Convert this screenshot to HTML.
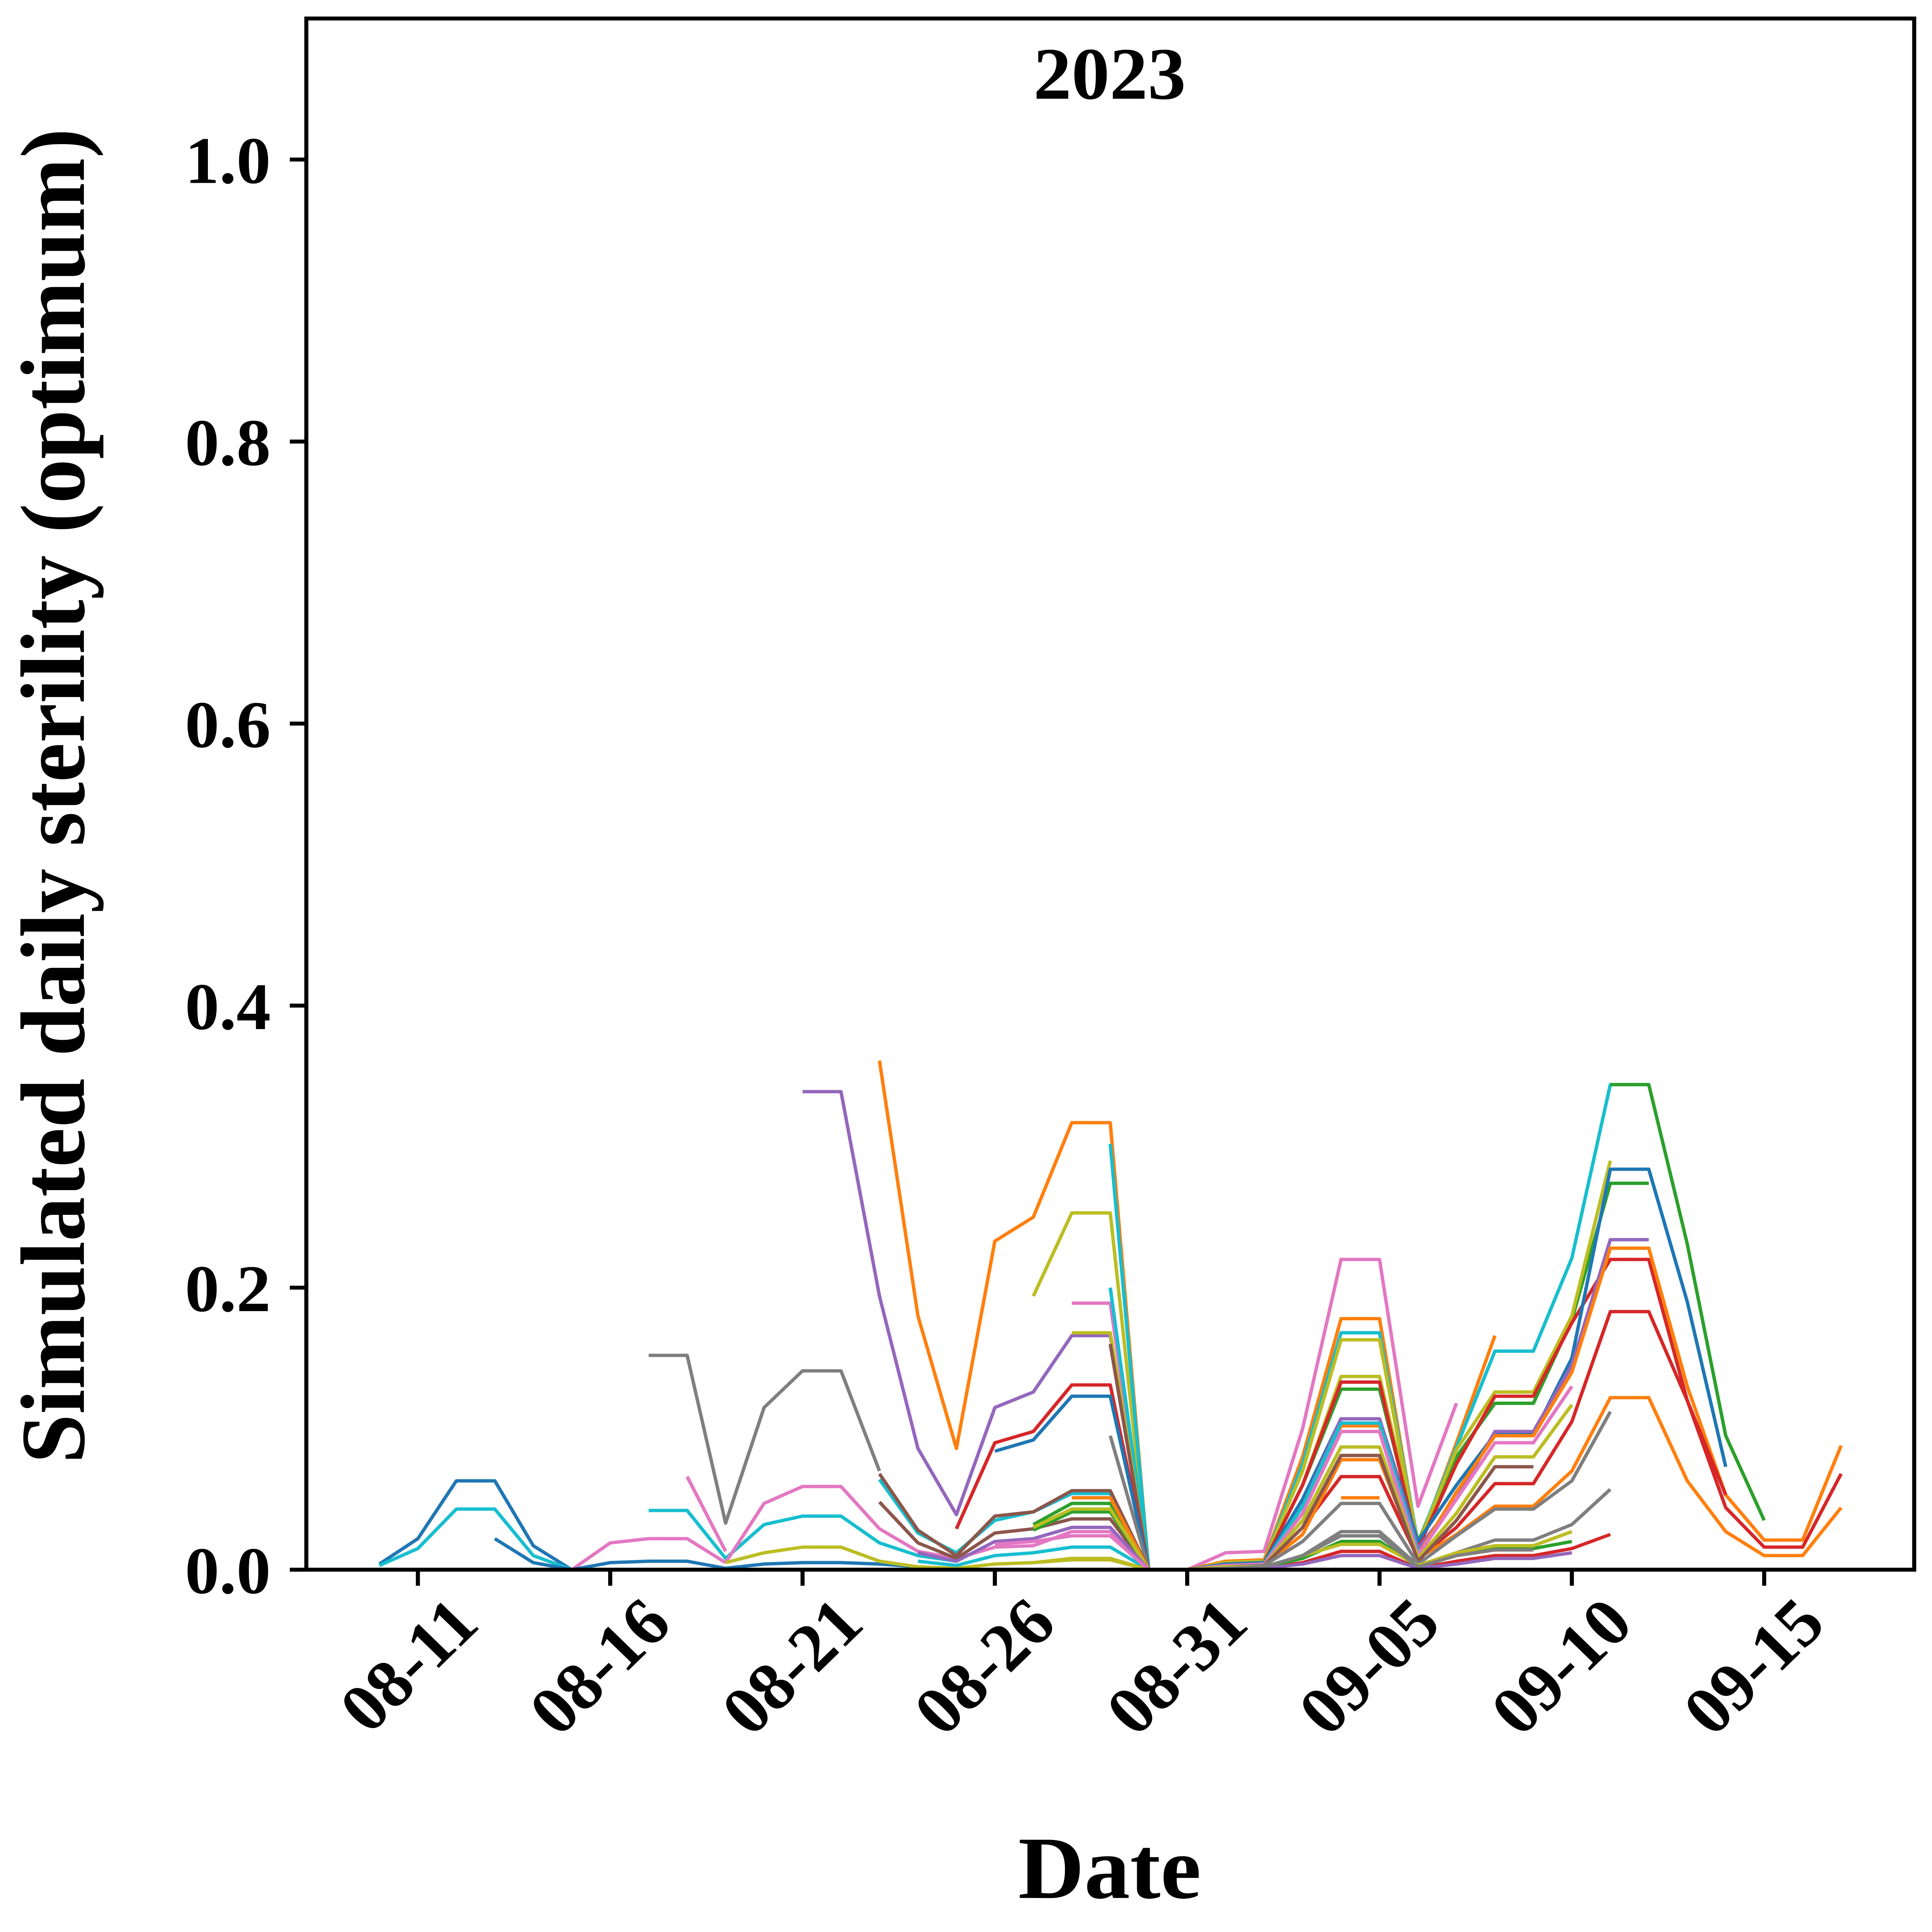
<!DOCTYPE html>
<html><head><meta charset="utf-8"><style>
html,body{margin:0;padding:0;background:#fff;overflow:hidden;width:100vw;height:100vh}
svg{display:block;width:100vw;height:100vh}
text{font-family:"Liberation Serif",serif;font-weight:bold;fill:#000}
</style></head><body>
<svg id="chart" xmlns="http://www.w3.org/2000/svg" viewBox="0 0 1520 1565.6" preserveAspectRatio="none">
<rect x="0" y="0" width="1520" height="1565.6" fill="#fff"/>
<g id="series"></g>
<g id="axes"></g>
<rect x="241" y="15" width="1265" height="1257" fill="none" stroke="#000" stroke-width="3.2"/>
<text x="873" y="80" font-size="60" text-anchor="middle">2023</text>
<text x="873" y="1538" font-size="72" text-anchor="middle">Date</text>
<text transform="translate(66,645) rotate(-90)" font-size="72" text-anchor="middle">Simulated daily sterility (optimum)</text>
</svg>
<script>
const dates = ["08-10","08-11","08-12","08-13","08-14","08-15","08-16","08-17","08-18","08-19","08-20","08-21","08-22","08-23","08-24","08-25","08-26","08-27","08-28","08-29","08-30","08-31","09-01","09-02","09-03","09-04","09-05","09-06","09-07","09-08","09-09","09-10","09-11","09-12","09-13","09-14","09-15","09-16","09-17"];
const xTickLabels = ["08-11","08-16","08-21","08-26","08-31","09-05","09-10","09-15"];
const yTickValues = [0.0,0.2,0.4,0.6,0.8,1.0];
const yTickLabels = ["0.0","0.2","0.4","0.6","0.8","1.0"];
const seriesColors = ["#1f77b4","#17becf","#1f77b4","#e377c2","#1f77b4","#7f7f7f","#e377c2","#17becf","#e377c2","#bcbd22","#9467bd","#ff7f0e","#bcbd22","#17becf","#e377c2","#17becf","#bcbd22","#8c564b","#d62728","#1f77b4","#7f7f7f","#17becf","#8c564b","#8c564b","#2ca02c","#2ca02c","#ff7f0e","#bcbd22","#9467bd","#17becf","#bcbd22","#e377c2",
"#e377c2","#ff7f0e","#17becf","#2ca02c","#2ca02c","#bcbd22","#bcbd22","#d62728","#1f77b4","#9467bd","#ff7f0e","#d62728","#ff7f0e","#17becf","#e377c2","#bcbd22","#8c564b","#7f7f7f","#7f7f7f","#ff7f0e","#d62728","#2ca02c","#9467bd","#bcbd22","#7f7f7f","#d62728"];
const seriesStart = [0,0,3,5,5,7,8,7,9,9,11,13,17,19,18,19,18,19,15,16,19,13,13,13,17,17,18,17,14,14,16,16,
21,21,21,21,32,21,21,21,21,21,21,21,21,21,21,21,21,21,21,25,21,21,21,21,21,29];
const seriesValues = [
[0.004,0.022,0.063,0.063,0.017,0.0],
[0.003,0.015,0.043,0.043,0.010,0.0],
[0.022,0.005,0.0],
[0.0,0.019,0.022,0.022,0.005],
[0,0.005,0.006,0.006,0.001,0.004,0.005,0.005,0.004,0.002,0.001],
[0.152,0.152,0.033,0.115,0.141,0.141,0.070],
[0.066,0.013],
[0.042,0.042,0.008,0.032,0.038,0.038,0.019,0.010,0.006],
[0.005,0.047,0.059,0.059,0.029,0.013,0.008,0.016,0.017,0.027,0.027,0],
[0.005,0.012,0.016,0.016,0.006,0.002,0.001,0.004,0.005,0.007,0.007,0],
[0.339,0.339,0.194,0.086,0.039,0.115,0.126,0.166,0.166,0],
[0.361,0.18,0.086,0.233,0.25,0.317,0.317,0],
[0.194,0.253,0.253,0],
[0.302,0],
[0.189,0.189,0],
[0.2,0],
[0.168,0.168,0],
[0.16,0],
[0.029,0.09,0.098,0.131,0.131,0],
[0.084,0.092,0.123,0.123,0],
[0.095,0],
[0.064,0.026,0.012,0.035,0.041,0.054,0.054,0],
[0.068,0.028,0.01,0.038,0.041,0.056,0.056,0],
[0.048,0.019,0.008,0.026,0.029,0.036,0.036,0],
[0.032,0.047,0.047,0],
[0.028,0.041,0.041,0],
[0.051,0.051,0],
[0.03,0.043,0.043,0],
[0.012,0.006,0.02,0.022,0.03,0.03,0],
[0.006,0.003,0.01,0.012,0.016,0.016,0],
[0.004,0.005,0.008,0.008,0],
[0.018,0.02,0.024,0.024,0],
[0,0.012,0.013,0.1,0.22,0.22,0.045,0.118],
[0,0.006,0.007,0.08,0.178,0.178,0.017,0.09,0.166],
[0,0.005,0.006,0.075,0.168,0.168,0.019,0.087,0.155,0.155,0.221,0.344,0.344],
[0,0.004,0.005,0.06,0.128,0.128,0.02,0.08,0.118,0.118,0.177,0.274,0.274],
[0.344,0.344,0.231,0.095,0.035],
[0,0.005,0.006,0.07,0.163,0.163,0.018,0.085,0.126,0.126,0.18,0.29],
[0,0.004,0.005,0.06,0.137,0.137,0.02],
[0,0.004,0.005,0.06,0.133,0.133,0.015,0.075,0.123,0.123,0.175,0.22,0.22,0.12,0.044,0.016,0.016,0.068],
[0,0.004,0.005,0.05,0.107,0.107,0.02,0.06,0.096,0.096,0.15,0.284,0.284,0.19,0.073],
[0,0.003,0.004,0.045,0.107,0.107,0.015,0.05,0.098,0.098,0.145,0.234,0.234],
[0,0.003,0.004,0.04,0.102,0.102,0.01,0.055,0.095,0.095,0.14,0.228,0.228,0.13,0.053,0.021,0.021,0.088],
[0,0.003,0.003,0.03,0.066,0.066,0.008,0.03,0.061,0.061,0.105,0.183,0.183,0.12,0.053],
[0,0.002,0.003,0.025,0.078,0.078,0.008,0.025,0.045,0.045,0.07,0.122,0.122,0.063,0.027,0.01,0.01,0.044],
[0,0.003,0.004,0.045,0.104,0.104,0.012],
[0,0.003,0.004,0.04,0.098,0.098,0.01,0.05,0.09,0.09,0.13],
[0,0.002,0.003,0.035,0.087,0.087,0.008,0.04,0.08,0.08,0.117],
[0,0.002,0.003,0.03,0.081,0.081,0.006,0.035,0.073,0.073],
[0,0.002,0.003,0.02,0.047,0.047,0.004,0.024,0.043,0.043,0.063,0.112],
[0,0.001,0.002,0.01,0.027,0.027,0.003,0.012,0.021,0.021,0.032,0.057],
[0.051,0.051],
[0,0.001,0.001,0.005,0.013,0.013,0.001,0.006,0.01,0.01,0.015,0.025],
[0,0.001,0.002,0.008,0.02,0.02,0.002,0.01,0.015,0.015,0.02],
[0,0.001,0.001,0.004,0.01,0.01,0.001,0.004,0.008,0.008,0.012],
[0,0.002,0.002,0.01,0.018,0.018,0.003,0.012,0.017,0.017,0.027],
[0,0.001,0.002,0.01,0.024,0.024,0.002,0.01,0.014,0.014],
[0.061,0.061]
];

const NS = "http://www.w3.org/2000/svg";
const X0 = 241, X1 = 1506, Y0 = 1272, Y1 = 15;
const dMin = -1.9, dMax = dates.length - 1 + 1.9;
function xScale(i){ return X0 + (i - dMin) / (dMax - dMin) * (X1 - X0); }
function yScale(v){ return Y0 - v / 1.1 * (Y0 - Y1); }

const sg = document.getElementById('series');
for (let s = 0; s < seriesValues.length; s++) {
  const pts = seriesValues[s].map((v, k) => xScale(seriesStart[s] + k).toFixed(2) + ',' + yScale(v).toFixed(2)).join(' ');
  const pl = document.createElementNS(NS, 'polyline');
  pl.setAttribute('points', pts);
  pl.setAttribute('fill', 'none');
  pl.setAttribute('stroke', seriesColors[s]);
  pl.setAttribute('stroke-width', '2.7');
  pl.setAttribute('stroke-linejoin', 'round');
  
  
  sg.appendChild(pl);
}

const ag = document.getElementById('axes');
for (let t = 0; t < yTickValues.length; t++) {
  const y = yScale(yTickValues[t]);
  const ln = document.createElementNS(NS, 'line');
  ln.setAttribute('x1', X0 - 13); ln.setAttribute('x2', X0);
  ln.setAttribute('y1', y); ln.setAttribute('y2', y);
  ln.setAttribute('stroke', '#000'); ln.setAttribute('stroke-width', '3.2');
  
  
  ag.appendChild(ln);
  const tx = document.createElementNS(NS, 'text');
  tx.setAttribute('x', X0 - 28); tx.setAttribute('y', y + 19);
  tx.setAttribute('font-size', '54'); tx.setAttribute('text-anchor', 'end');
  tx.textContent = yTickLabels[t];
  
  
  ag.appendChild(tx);
}
for (let t = 0; t < xTickLabels.length; t++) {
  const i = dates.indexOf(xTickLabels[t]);
  const x = xScale(i);
  const ln = document.createElementNS(NS, 'line');
  ln.setAttribute('x1', x); ln.setAttribute('x2', x);
  ln.setAttribute('y1', Y0); ln.setAttribute('y2', Y0 + 13);
  ln.setAttribute('stroke', '#000'); ln.setAttribute('stroke-width', '3.2');
  
  
  ag.appendChild(ln);
  const tx = document.createElementNS(NS, 'text');
  tx.setAttribute('transform', 'translate(' + (x + 50) + ',' + (Y0 + 46) + ') rotate(-45)');
  tx.setAttribute('font-size', '55'); tx.setAttribute('text-anchor', 'end');
  tx.textContent = xTickLabels[t];
  
  
  ag.appendChild(tx);
}
</script>
</body></html>
